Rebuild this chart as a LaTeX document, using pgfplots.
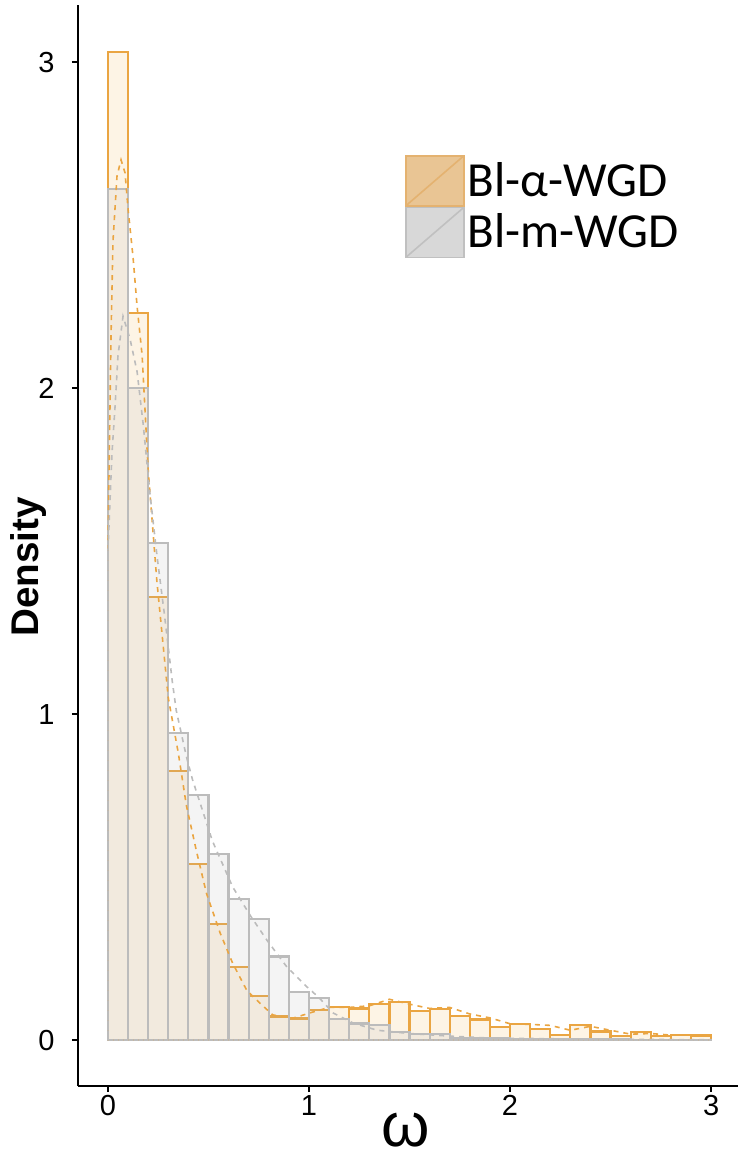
\documentclass[border=0pt]{standalone}
\usepackage{fontspec}
\setmainfont{Liberation Sans}
\newfontfamily\legfont{Carlito}
\usepackage{pgfplots}
\usepackage{pgfplotstable}
\pgfplotsset{compat=1.18}

\definecolor{orEdge}{RGB}{234,165,66}
\definecolor{orFill}{RGB}{240,180,80}
\definecolor{grEdge}{RGB}{188,188,188}
\definecolor{grFill}{RGB}{180,180,180}
\definecolor{orLeg}{RGB}{233,197,148}
\definecolor{orLegEdge}{RGB}{228,178,112}
\definecolor{grLeg}{RGB}{216,216,216}
\definecolor{grLegEdge}{RGB}{192,192,192}

\pgfplotstableread{
x y
0.0 3.03
0.1 2.23
0.2 1.36
0.3 0.826
0.4 0.539
0.5 0.356
0.6 0.225
0.7 0.135
0.8 0.072
0.9 0.066
1.0 0.093
1.1 0.102
1.2 0.097
1.3 0.110
1.4 0.116
1.5 0.090
1.6 0.096
1.7 0.074
1.8 0.063
1.9 0.041
2.0 0.049
2.1 0.035
2.2 0.015
2.3 0.045
2.4 0.026
2.5 0.013
2.6 0.024
2.7 0.013
2.8 0.015
2.9 0.014
3.0 0.014
}\alphahist

\pgfplotstableread{
x y
0.0 2.61
0.1 2.00
0.2 1.525
0.3 0.943
0.4 0.751
0.5 0.571
0.6 0.432
0.7 0.371
0.8 0.256
0.9 0.148
1.0 0.128
1.1 0.064
1.2 0.051
1.3 0.046
1.4 0.024
1.5 0.018
1.6 0.018
1.7 0.007
1.8 0.006
1.9 0.005
2.0 0.004
2.1 0.003
2.2 0.003
2.3 0.002
2.4 0.002
2.5 0.002
2.6 0.001
2.7 0.001
2.8 0.001
2.9 0.001
3.0 0.001
}\mhist

\begin{document}
\begin{tikzpicture}
\begin{axis}[
  name=ax,
  scale only axis,
  width=330bp, height=540.5bp,
  xmin=-0.149, xmax=3.134,
  ymin=-0.141, ymax=3.175,
  axis lines*=left,
  axis line style={line width=1.4bp, black, -},
  xtick={0,1,2,3}, ytick={0,1,2,3},
  tick align=outside,
  major tick length=3bp,
  tick style={line width=0.9bp, black},
  ticklabel style={font=\fontsize{14.5bp}{17bp}\selectfont, inner sep=0pt},
  /pgf/number format/assume math mode=true,
  yticklabel style={anchor=east, xshift=-8.5bp},
  xticklabel style={anchor=north, yshift=-1.5bp},
  xlabel={ω},
  xlabel style={at={(axis cs:1.483,-0.141)}, anchor=center, yshift=-22bp, inner sep=0pt, outer sep=0pt, font=\fontsize{31bp}{33bp}\selectfont},
  ylabel={Density},
  ylabel style={at={(axis cs:-0.149,1.451)}, anchor=center, yshift=24.5bp, font=\bfseries\fontsize{19.3bp}{22bp}\selectfont},
  legend style={at={(axis cs:1.478,2.715)}, anchor=north west, draw=none, fill=none,
    inner sep=0pt, outer sep=0pt, row sep=0pt, column sep=0pt,
    font=\legfont\fontsize{24.5bp}{25bp}\selectfont,
    nodes={inner xsep=1.5bp, inner ysep=0pt, text height=20.25bp, text depth=4.75bp}},
  legend cell align=left,
]
\addplot[ybar interval, draw=orEdge, fill=orFill, fill opacity=0.15, line width=1.1bp, forget plot] table {\alphahist};
\addplot[ybar interval, draw=grEdge, fill=grFill, fill opacity=0.15, line width=1.1bp, forget plot] table {\mhist};

\addplot[orEdge, dash pattern=on 2.5bp off 2.5bp, line width=0.8bp, forget plot] coordinates {
(0,0) (0,1.52) (0.01,1.94) (0.015,2.15) (0.025,2.45) (0.045,2.65) (0.065,2.70) (0.085,2.66) (0.1,2.55) (0.125,2.40) (0.145,2.25) (0.17,2.10) (0.2,1.75) (0.243,1.41) (0.3,1.05) (0.35,0.88) (0.39,0.72) (0.44,0.58) (0.49,0.45) (0.557,0.33) (0.62,0.236) (0.69,0.153) (0.756,0.113) (0.82,0.077) (0.92,0.067) (1.02,0.086) (1.1,0.10) (1.2,0.10) (1.3,0.105) (1.4,0.125) (1.5,0.11) (1.6,0.097) (1.7,0.10) (1.8,0.08) (1.9,0.068) (2.0,0.05) (2.1,0.048) (2.2,0.045) (2.3,0.03) (2.4,0.042) (2.5,0.03) (2.6,0.018) (2.7,0.02) (2.8,0.015) (2.9,0.016) (3.0,0.013) (3.0,0) (0,0)};
\addplot[grEdge, dash pattern=on 2.5bp off 2.5bp, line width=0.8bp, forget plot] coordinates {
(0,0) (0,1.5) (0.02,1.8) (0.035,1.94) (0.05,2.1) (0.075,2.22) (0.11,2.15) (0.145,2.05) (0.175,1.89) (0.21,1.67) (0.245,1.48) (0.28,1.31) (0.32,1.10) (0.34,1.01) (0.39,0.87) (0.42,0.80) (0.52,0.61) (0.62,0.47) (0.71,0.38) (0.79,0.307) (0.89,0.224) (0.99,0.163) (1.05,0.13) (1.12,0.083) (1.22,0.052) (1.34,0.03) (1.5,0.02) (1.7,0.012) (1.9,0.006) (2.2,0.004) (2.6,0.002) (3.0,0.001) (3.0,0) (0,0)};

\addlegendimage{legend image code/.code={\draw[fill=orLeg, draw=orLegEdge, line width=0.8bp] (0bp,-12.5bp) rectangle (29bp,12.5bp); \draw[orLegEdge, line width=0.8bp] (0bp,-12.5bp) -- (29bp,12.5bp);}}
\addlegendentry{Bl-α-WGD}
\addlegendimage{legend image code/.code={\draw[fill=grLeg, draw=grLegEdge, line width=0.8bp] (0bp,-12.5bp) rectangle (29bp,12.5bp); \draw[grLegEdge, line width=0.8bp] (0bp,-12.5bp) -- (29bp,12.5bp);}}
\addlegendentry{Bl-m-WGD}
\end{axis}
\pgfresetboundingbox
\path (ax.south west) ++(-39bp,-36.5bp) rectangle ++(372bp,579.5bp);
\end{tikzpicture}
\end{document}
